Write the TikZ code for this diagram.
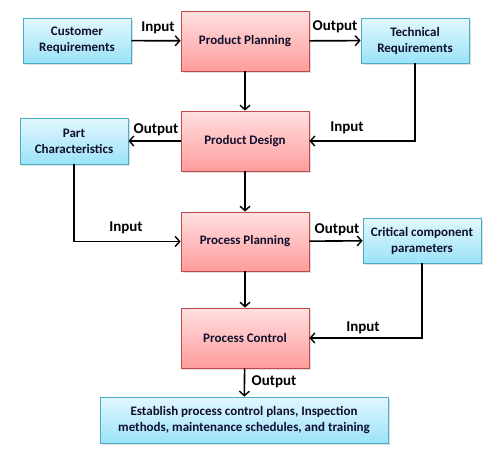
\documentclass[tikz,border=0pt]{standalone}
\usepackage{fontspec}
\setmainfont{Carlito}
\usetikzlibrary{arrows.meta,shadows}
\definecolor{txt}{HTML}{10102E}
\definecolor{redtop}{HTML}{FFE0E0}
\definecolor{redbot}{HTML}{FF9C9C}
\definecolor{redline}{HTML}{BE4B48}
\definecolor{bluetop}{HTML}{E2F7FD}
\definecolor{bluebot}{HTML}{9BE3F8}
\definecolor{blueline}{HTML}{4BACC6}
\tikzset{
  base/.style={draw, line width=0.8pt, align=center, text=txt, font=\bfseries\fontsize{13}{16}\selectfont, inner sep=1pt,
    drop shadow={shadow xshift=1.5pt, shadow yshift=-1.5pt, opacity=0.25}},
  redbox/.style={base, draw=redline, top color=redtop, bottom color=redbot, minimum width=128pt, minimum height=60pt},
  bluebox/.style={base, draw=blueline, top color=bluetop, bottom color=bluebot, minimum height=45pt},
  conn/.style={line width=1.6pt, -{Straight Barb[length=4.5pt,width=10pt,line width=1.4pt]}},
  lbl/.style={font=\bfseries\fontsize{15}{17}\selectfont, text=black, inner sep=0pt}
}
\begin{document}
\begin{tikzpicture}[x=1pt,y=-1pt]
\useasboundingbox (0,0) rectangle (485,455);
\node[bluebox, minimum width=108pt] (cr) at (77,40.5) {Customer\\Requirements};
\node[redbox] (pp) at (245,41) {Product Planning};
\node[bluebox, minimum width=108pt] (tr) at (415,40.5) {Technical\\Requirements};
\node[bluebox, minimum width=108pt, minimum height=46pt] (pc) at (74,141) {Part\\Characteristics};
\node[redbox] (pd) at (245,141) {Product Design};
\node[redbox, minimum height=59pt] (prp) at (245,241.5) {Process Planning};
\node[bluebox, minimum width=118pt] (ccp) at (422,240.5) {Critical component\\parameters};
\node[redbox] (prc) at (245,338) {Process Control};
\node[bluebox, minimum width=288pt, minimum height=46pt] (est) at (244,420) {Establish process control plans, Inspection\\methods, maintenance schedules, and training};

\draw[conn] (cr) -- (pp);
\draw[conn] (pp) -- (tr);
\draw[conn] (pp) -- (pd);
\draw[conn] (tr.south) |- (pd.east);
\draw[conn] (pd) -- (pc);
\draw[conn] (pc.south) |- (prp.west);
\draw[conn] (pd) -- (prp);
\draw[conn] (prp) -- (ccp);
\draw[conn] (ccp.south) |- (prc.east);
\draw[conn] (prp) -- (prc);
\draw[conn] (prc) -- (est);

\node[lbl] (l1) at (158,28) {Input};
\node[lbl] (l2) at (335,27) {Output};
\node[lbl] (l3) at (156,130) {Output};
\node[lbl] (l4) at (347,128) {Input};
\node[lbl] (l5) at (126,228) {Input};
\node[lbl] (l6) at (337,230) {Output};
\node[lbl] (l7) at (363,328) {Input};
\node[lbl] (l8) at (274,382) {Output};
\end{tikzpicture}
\end{document}
